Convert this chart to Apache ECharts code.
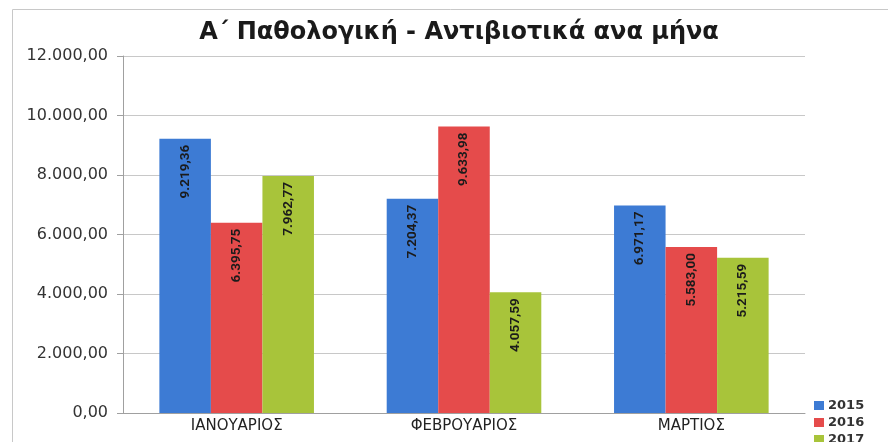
<!DOCTYPE html>
<html><head><meta charset="utf-8">
<script src="https://cdn.jsdelivr.net/npm/echarts@6/dist/echarts.min.js"></script>
<style>html,body{margin:0;padding:0;background:#fff}#c{width:888px;height:442px}</style>
</head><body><div id="c"></div>
<script>
const titleText = 'Α΄ Παθολογική - Αντιβιοτικά ανα μήνα';
const categories = ['ΙΑΝΟΥΑΡΙΟΣ', 'ΦΕΒΡΟΥΑΡΙΟΣ', 'ΜΑΡΤΙΟΣ'];
const seriesNames = ['2015', '2016', '2017'];
const v2015 = [9219.36, 7204.37, 6971.17];
const v2016 = [6395.75, 9633.98, 5583.00];
const v2017 = [7962.77, 4057.59, 5215.59];
const colors = ['#3d7bd4', '#e54b4b', '#a8c43a'];

function fmt(v) {
  const parts = v.toFixed(2).split('.');
  const intp = parts[0].replace(/\B(?=(\d{3})+(?!\d))/g, '.');
  return intp + ',' + parts[1];
}

const chart = echarts.init(document.getElementById('c'));
const label = {
  show: true, position: 'insideTop', rotate: 90, align: 'right', verticalAlign: 'middle',
  distance: 6, color: '#1b1b1b', fontFamily: 'Roboto', fontWeight: 'bold', fontSize: 13.5,
  formatter: p => fmt(p.value)
};
const vals = [v2015, v2016, v2017];
chart.setOption({
  animation: false,
  title: { text: titleText, left: 454, top: 16, textAlign: 'center',
    textStyle: { fontFamily: 'DejaVu Sans', fontWeight: 'bold', fontSize: 24, color: '#1a1a1a' } },
  legend: { orient: 'vertical', left: 814, top: 399, height: 60, itemWidth: 10, itemHeight: 9, itemGap: 4,
    icon: 'rect', data: seriesNames, padding: 0,
    textStyle: { fontFamily: 'DejaVu Sans', fontWeight: 'bold', fontSize: 13, lineHeight: 11, color: '#333', padding: [0,0,0,-1] } },
  grid: { left: 123, right: 83, top: 56, bottom: 29 },
  xAxis: { type: 'category', data: categories,
    axisLine: { lineStyle: { color: '#a0a0a0' } }, axisTick: { show: false },
    axisLabel: { fontFamily: 'DejaVu Sans', fontSize: 15, color: '#222', margin: 6 } },
  yAxis: { type: 'value', min: 0, max: 12000, interval: 2000,
    axisLine: { show: true, lineStyle: { color: '#a0a0a0' } },
    axisTick: { show: true, length: 6, lineStyle: { color: '#a0a0a0' } },
    splitLine: { lineStyle: { color: '#c8c8c8' } },
    axisLabel: { fontFamily: 'DejaVu Sans', fontSize: 16, color: '#333', margin: 15,
      formatter: v => fmt(v) } },
  graphic: [{ type: 'rect', shape: { x: 12.5, y: 9.5, width: 890, height: 440 }, silent: true,
    style: { fill: 'none', stroke: '#c8c8c8', lineWidth: 1 } }],
  series: seriesNames.map((n, i) => ({
    name: n, type: 'bar', data: vals[i], barGap: '0%', barCategoryGap: '32%',
    itemStyle: { color: colors[i] }, label: label
  }))
});
</script></body></html>
